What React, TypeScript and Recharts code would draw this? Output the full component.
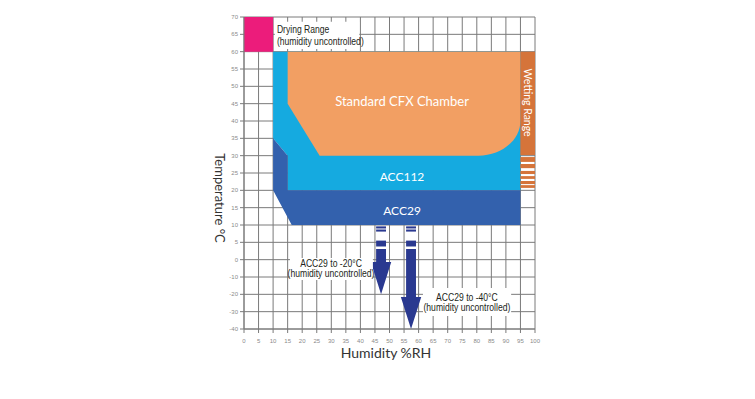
import {
  CartesianGrid,
  ComposedChart,
  ReferenceArea,
  ReferenceDot,
  XAxis,
  YAxis,
} from "recharts";

const humidityTicks = [0, 5, 10, 15, 20, 25, 30, 35, 40, 45, 50, 55, 60, 65, 70, 75, 80, 85, 90, 95, 100];
const temperatureTicks = [70, 65, 60, 55, 50, 45, 40, 35, 30, 25, 20, 15, 10, 5, 0, -10, -20, -30, -40];

// below 0 °C the grid is compressed: one row is 10 °C instead of 5 °C
const toAxis = (t: number) => (t >= 0 ? t : t / 2);
const fromAxis = (v: number) => (v >= 0 ? v : v * 2);

// outlines as [humidity, °C]; a 6-number point is a curve: end x, end y, ctrl1 x, ctrl1 y, ctrl2 x, ctrl2 y
const dryingRange = { humidity: [0, 10], temp: [60, 70] };
const acc112Zone = [[10, 60], [95, 60], [95, 20], [15, 20], [15, 30], [10, 35]];
const acc29Zone = [[10, 35], [15, 30], [15, 20], [95, 20], [95, 10], [16.4, 10], [10, 20]];
const cfxZone = [[15, 60], [95, 60], [95, 40], [80.5, 30, 95, 34.5, 88.5, 30], [26, 30], [15, 45]];

const wettingHumidity = [95, 100];
const wettingBands = [
  [30.2, 60],
  [28.2, 29.6],
  [26.4, 27.6],
  [24.7, 25.6],
  [23.3, 24.1],
  [21.8, 22.7],
  [20.7, 21.5],
];

const arrowHumidity = [47.1, 57.4];
const arrowHeadFrom = [-1.4, -21.6];
const arrowTo = [-20, -40];
const arrowShaftTop = 3.1;
const arrowDashes = [
  [9.0, 9.6],
  [8.1, 8.7],
  [3.8, 5.5],
];

const noteBoxes = [
  { humidity: [10.6, 39.6], temp: [60.8, 68.6] },
  { humidity: [15.8, 44.3], temp: [-11.8, 0.5] },
  { humidity: [61.5, 91.8], temp: [-32.5, -16.3] },
];

const zoneLabels = [
  { humidity: 54.3, temp: 45.8, text: "Standard CFX Chamber", size: 13 },
  { humidity: 54.3, temp: 24.1, text: "ACC112", size: 12 },
  { humidity: 54.3, temp: 14.3, text: "ACC29", size: 12 },
];
const wettingLabel = { humidity: 97.5, temp: 45.3, text: "Wetting Range" };
const notes = [
  { humidity: 11.3, temp: 66.3, text: "Drying Range", anchor: "start" },
  { humidity: 11.3, temp: 62.8, text: "(humidity uncontrolled)", anchor: "start" },
  { humidity: 29.9, temp: -2.5, text: "ACC29 to -20°C", anchor: "middle" },
  { humidity: 29.9, temp: -8.3, text: "(humidity uncontrolled)", anchor: "middle" },
  { humidity: 76.6, temp: -22.1, text: "ACC29 to -40°C", anchor: "middle" },
  { humidity: 76.6, temp: -27.9, text: "(humidity uncontrolled)", anchor: "middle" },
];

const PINK = "#ec1c7b";
const ORANGE = "#f29f63";
const LIGHT_BLUE = "#15aae0";
const DARK_BLUE = "#3361ad";
const NAVY = "#2a3990";
const WETTING = "#d5743a";
const GRID = "#7a7a7a";
const LATO = "Lato, 'Open Sans', sans-serif";
const NARROW = "'Liberation Sans', Arial, sans-serif";

const SHAFT = 1.7;
const HEAD = 3.5;

const rows = humidityTicks.map((h, i) => ({ humidity: h, temp: toAxis(temperatureTicks[Math.min(i, temperatureTicks.length - 1)]) }));

function zone(points: number[][], fill: string, key: string) {
  const pts = points.map((p) =>
    p.length === 6 ? [p[0], toAxis(p[1]), p[2], toAxis(p[3]), p[4], toAxis(p[5])] : [p[0], toAxis(p[1])]
  );
  const xs = pts.map((p) => p[0]);
  const ys = pts.map((p) => p[1]);
  const x1 = Math.min(...xs);
  const x2 = Math.max(...xs);
  const y1 = Math.min(...ys);
  const y2 = Math.max(...ys);
  const shape = (props: any) => {
    const { x, y, width, height } = props;
    const sx = (v: number) => x + ((v - x1) / (x2 - x1)) * width;
    const sy = (v: number) => y + ((y2 - v) / (y2 - y1)) * height;
    let d = "";
    pts.forEach((p, i) => {
      if (i === 0) d += `M${sx(p[0])},${sy(p[1])}`;
      else if (p.length === 6)
        d += `C${sx(p[2])},${sy(p[3])} ${sx(p[4])},${sy(p[5])} ${sx(p[0])},${sy(p[1])}`;
      else d += `L${sx(p[0])},${sy(p[1])}`;
    });
    return <path d={d + "Z"} fill={fill} />;
  };
  return (
    <ReferenceArea key={key} x1={x1} x2={x2} y1={y1} y2={y2} fill={fill} fillOpacity={1} shape={shape} />
  );
}

function rect(hum: number[], temp: number[], fill: string, key: string) {
  return (
    <ReferenceArea
      key={key}
      x1={hum[0]}
      x2={hum[1]}
      y1={toAxis(temp[0])}
      y2={toAxis(temp[1])}
      fill={fill}
      fillOpacity={1}
      stroke="none"
    />
  );
}

function label(humidity: number, temp: number, key: string, render: (cx: number, cy: number) => any) {
  return (
    <ReferenceDot
      key={key}
      x={humidity}
      y={toAxis(temp)}
      r={0}
      shape={(p: any) => render(p.cx, p.cy)}
    />
  );
}

function AxisTitle(props: any) {
  const { viewBox, text, vertical } = props;
  if (!viewBox) return null;
  if (vertical) {
    const cx = viewBox.x + viewBox.width - 24;
    const cy = viewBox.y + viewBox.height / 2 + 25;
    return (
      <text
        x={cx}
        y={cy}
        transform={`rotate(90 ${cx} ${cy})`}
        textAnchor="middle"
        dominantBaseline="central"
        fontFamily={LATO}
        fontSize={13}
        fill="#333"
      >
        {text}
      </text>
    );
  }
  return (
    <text
      x={viewBox.x + viewBox.width / 2 - 3.5}
      y={viewBox.y + 23}
      textAnchor="middle"
      dominantBaseline="central"
      fontFamily={LATO}
      fontSize={14}
      fill="#333"
    >
      {text}
    </text>
  );
}

export default function App() {
  const tickStyle = { fontSize: 6, fill: "#8a8a8a", fontFamily: NARROW };
  return (
    <div style={{ position: "absolute", left: 0, top: 0, width: 755, height: 399, background: "#fff" }}>
      <ComposedChart data={rows} width={755} height={399} margin={{ top: 17, right: 220, bottom: 0, left: 0 }}>
        <CartesianGrid stroke={GRID} strokeWidth={1} />
        <XAxis
          type="number"
          dataKey="humidity"
          domain={[0, 100]}
          allowDataOverflow
          ticks={humidityTicks}
          interval={0}
          height={70}
          tick={tickStyle}
          tickSize={4}
          tickMargin={6}
          axisLine={{ stroke: GRID }}
          tickLine={{ stroke: GRID }}
          label={<AxisTitle text="Humidity %RH" />}
        />
        <YAxis
          type="number"
          dataKey="temp"
          domain={[-20, 70]}
          allowDataOverflow
          ticks={temperatureTicks.map(toAxis)}
          interval={0}
          width={244}
          tick={tickStyle}
          tickSize={4}
          tickMargin={2}
          tickFormatter={(v) => String(fromAxis(Number(v)))}
          axisLine={{ stroke: GRID }}
          tickLine={{ stroke: GRID }}
          label={<AxisTitle text="Temperature °C" vertical />}
        />
        {rect(dryingRange.humidity, dryingRange.temp, PINK, "drying")}
        {zone(acc112Zone, LIGHT_BLUE, "acc112")}
        {zone(acc29Zone, DARK_BLUE, "acc29")}
        {zone(cfxZone, ORANGE, "cfx")}
        {wettingBands.map((b, i) => rect(wettingHumidity, b, WETTING, `wet${i}`))}
        {arrowHumidity.map((h, i) =>
          arrowDashes.map((d, j) => rect([h - SHAFT, h + SHAFT], d, NAVY, `dash${i}-${j}`))
        )}
        {arrowHumidity.map((h, i) =>
          zone(
            [
              [h - SHAFT, arrowShaftTop],
              [h + SHAFT, arrowShaftTop],
              [h + SHAFT, arrowHeadFrom[i]],
              [h + HEAD, arrowHeadFrom[i]],
              [h, arrowTo[i]],
              [h - HEAD, arrowHeadFrom[i]],
              [h - SHAFT, arrowHeadFrom[i]],
            ],
            NAVY,
            `arrow${i}`
          )
        )}
        {noteBoxes.map((b, i) => rect(b.humidity, b.temp, "#fff", `box${i}`))}
        {zoneLabels.map((z, i) =>
          label(z.humidity, z.temp, `zl${i}`, (cx, cy) => (
            <text x={cx} y={cy} textAnchor="middle" dominantBaseline="central" fontFamily={LATO} fontSize={z.size} fill="#fff">
              {z.text}
            </text>
          ))
        )}
        {label(wettingLabel.humidity, wettingLabel.temp, "wetlabel", (cx, cy) => (
          <text
            x={cx}
            y={cy}
            transform={`rotate(90 ${cx} ${cy})`}
            textAnchor="middle"
            dominantBaseline="central"
            fontFamily={LATO}
            fontSize={10.5}
            fill="#fff"
          >
            {wettingLabel.text}
          </text>
        ))}
        {notes.map((n, i) =>
          label(n.humidity, n.temp, `note${i}`, (cx, cy) => (
            <text
              x={0}
              y={0}
              transform={`translate(${cx} ${cy}) scale(0.86 1)`}
              textAnchor={n.anchor}
              dominantBaseline="central"
              fontFamily={NARROW}
              fontSize={10}
              fill="#231f20"
            >
              {n.text}
            </text>
          ))
        )}
      </ComposedChart>
    </div>
  );
}
